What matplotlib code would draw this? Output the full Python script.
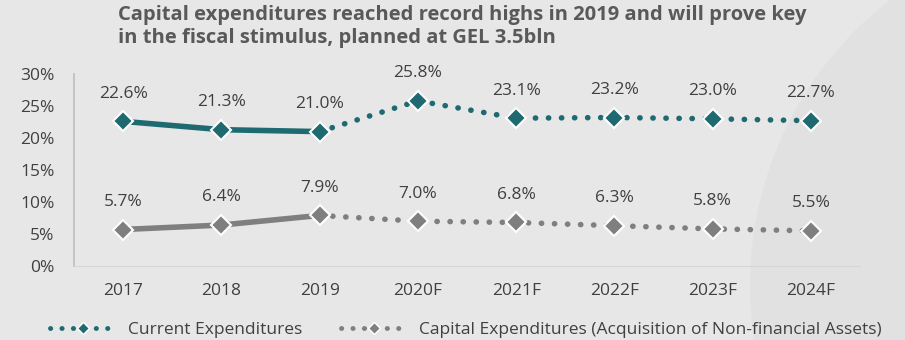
import matplotlib
matplotlib.use('Agg')
import matplotlib.pyplot as plt
from matplotlib.lines import Line2D
from matplotlib.patches import Ellipse
from matplotlib.ticker import FuncFormatter

years = ['2017', '2018', '2019', '2020F', '2021F', '2022F', '2023F', '2024F']
current_exp = [22.6, 21.3, 21.0, 25.8, 23.1, 23.2, 23.0, 22.7]
capital_exp = [5.7, 6.4, 7.9, 7.0, 6.8, 6.3, 5.8, 5.5]
n_actual = 3  # 2017-2019 are actuals, the rest forecasts

TEAL = '#1e6a70'
GREY = '#7f7f7f'
TEXT = '#404040'
BG = '#e7e7e7'
DOTS = (0, (0.05, 2.3))

plt.rcParams['font.family'] = ['Open Sans', 'DejaVu Sans']

W, H = 905, 340
fig = plt.figure(figsize=(W / 100, H / 100), dpi=100, facecolor=BG)

# faint decorative shape in the background, right side
bg = fig.add_axes([0, 0, 1, 1], zorder=-1)
bg.set_xlim(0, W)
bg.set_ylim(H, 0)
bg.axis('off')
bg.add_patch(Ellipse((1110, 285), 720, 720, facecolor='#e1e1e1', edgecolor='none'))

ax = fig.add_axes([74 / W, 1 - 266 / H, (860 - 74) / W, (266 - 74) / H])
ax.set_facecolor('none')

x = list(range(len(years)))


def draw_series(vals, color):
    a = n_actual
    ax.plot(x[:a], vals[:a], color=color, lw=4, solid_capstyle='round', zorder=2)
    ax.plot(x[a - 1:], vals[a - 1:], color=color, lw=4, linestyle=DOTS,
            dash_capstyle='round', zorder=2)
    ax.plot(x, vals, linestyle='none', marker='D', ms=10, mfc=color, mec='white',
            mew=1.5, zorder=3)
    for xi, v in zip(x, vals):
        ax.annotate(f'{v:.1f}%', (xi, v), xytext=(0, 17), textcoords='offset points',
                    ha='center', va='baseline', fontsize=12.5, color=TEXT)


draw_series(current_exp, TEAL)
draw_series(capital_exp, GREY)

ax.set_xlim(-0.5, len(years) - 0.5)
ax.set_ylim(0, 30)
ax.set_yticks(range(0, 31, 5))
ax.yaxis.set_major_formatter(FuncFormatter(lambda v, _: f'{v:.0f}%'))
ax.set_xticks(x)
ax.set_xticklabels(years)
ax.tick_params(axis='both', length=0, labelsize=12.5, colors=TEXT)
ax.tick_params(axis='x', pad=12)
ax.tick_params(axis='y', pad=14)
for side in ['top', 'right']:
    ax.spines[side].set_visible(False)
ax.spines['left'].set_color('#bdbdbd')
ax.spines['left'].set_linewidth(1.2)
ax.spines['bottom'].set_color('#d6d6d6')

fig.text(118 / W, 1 - 5 / H,
         'Capital expenditures reached record highs in 2019 and will prove key\n'
         'in the fiscal stimulus, planned at GEL 3.5bln',
         ha='left', va='top', fontsize=14.5, fontweight='bold', color='#595959',
         linespacing=1.2)

handles = [
    Line2D([0], [0], color=c, lw=3.5, linestyle=DOTS, dash_capstyle='round',
           marker='D', ms=6.5, mfc=c, mec='white', mew=1)
    for c in (TEAL, GREY)
]
fig.legend(handles, ['Current Expenditures',
                     'Capital Expenditures (Acquisition of Non-financial Assets)'],
           loc='center', bbox_to_anchor=(466 / W, 1 - 330 / H), ncol=2, frameon=False,
           fontsize=12.5, labelcolor=TEXT, handlelength=3.8, columnspacing=2.2,
           handletextpad=0.7, borderpad=0)

fig.savefig('out.png', dpi=100, facecolor=BG)
